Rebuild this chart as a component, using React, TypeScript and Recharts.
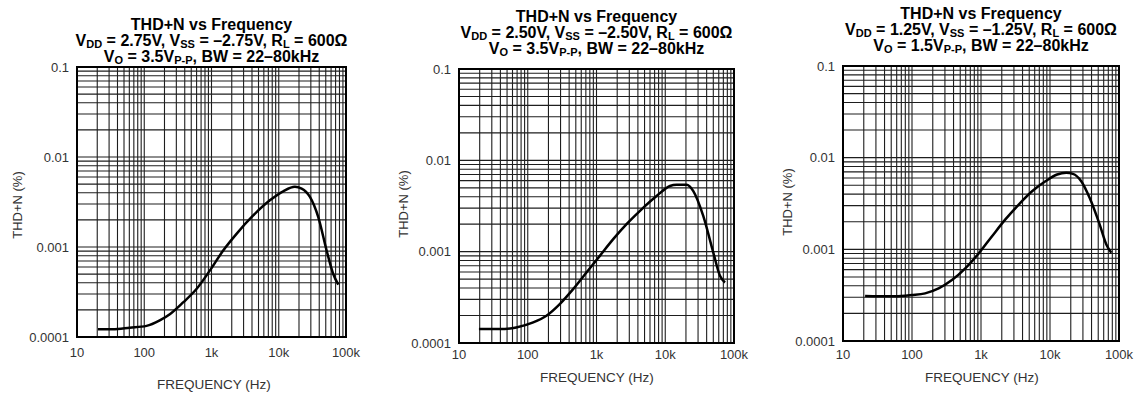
import React from "react";
import { LineChart, Line, XAxis, YAxis, CartesianGrid, ReferenceArea } from "recharts";

// decade ticks (labelled) – minor grid lines are 2..9 x each decade
const xDecades = [10, 100, 1000, 10000, 100000];
const xDecadeLabels = ["10", "100", "1k", "10k", "100k"];
const yDecades = [0.0001, 0.001, 0.01, 0.1];
const yDecadeLabels = ["0.0001", "0.001", "0.01", "0.1"];

// panel 1: VDD = 2.75V
const freq1 = [20.5, 34, 61, 108, 170, 240, 378, 598, 944, 1492, 2356, 4170, 7380, 11660, 17380, 21880, 29100, 38700, 51500, 64600, 76900];
const thd1 = [0.000122, 0.000122, 0.000127, 0.000133, 0.000153, 0.000179, 0.000242, 0.000341, 0.000546, 0.000914, 0.0014, 0.00224, 0.0033, 0.00416, 0.00466, 0.00446, 0.0036, 0.00215, 0.000914, 0.000501, 0.000381];

// panel 2: VDD = 2.50V
const freq2 = [19.5, 39, 68, 120, 187, 292, 457, 714, 1118, 1750, 2735, 4520, 7480, 11690, 14630, 20460, 25600, 35700, 50000, 62500, 74000];
const thd2 = [0.000142, 0.000142, 0.000148, 0.000168, 0.000199, 0.000267, 0.000389, 0.000592, 0.0009, 0.00137, 0.002, 0.00291, 0.00407, 0.00524, 0.0054, 0.0054, 0.00461, 0.00246, 0.000977, 0.000545, 0.00046];

// panel 3: VDD = 1.25V
const freq3 = [20.9, 32.6, 57, 99.5, 155, 243, 379, 592, 925, 1445, 2255, 3520, 5500, 8590, 12700, 17190, 21480, 28380, 37500, 52400, 65500, 77400];
const thd3 = [0.000309, 0.000307, 0.000307, 0.000317, 0.000331, 0.000375, 0.000462, 0.00062, 0.000902, 0.00139, 0.00212, 0.00308, 0.0043, 0.00553, 0.00655, 0.00683, 0.00666, 0.00553, 0.00365, 0.00187, 0.00113, 0.000917];

const FONT = "'Liberation Sans', Arial, Helvetica, sans-serif";

const minorTicks = (decades: number[]) => {
  const out: number[] = [];
  decades.forEach((d, i) => {
    if (i === decades.length - 1) { out.push(d); return; }
    for (let m = 1; m <= 9; m++) out.push(+(d * m).toPrecision(6));
  });
  return out;
};
const xTicks = minorTicks(xDecades);
const yTicks = minorTicks(yDecades);

const labelFor = (v: number, decades: number[], labels: string[]) => {
  const i = decades.findIndex((d) => Math.abs(v / d - 1) < 1e-6);
  return i >= 0 ? labels[i] : "";
};

type Panel = {
  left: number; width: number;
  plot: { x: number; y: number; w: number; h: number };
  freq: number[]; thd: number[];
  title: { top: number; vdd: string; vss: string; vo: string };
  xTickMargin: number;
  yTitle: { x: number; y: number };
  xTitle: { x: number; y: number };
};

const panels: Panel[] = [
  {
    left: 0, width: 380, plot: { x: 77, y: 67, w: 269, h: 270 }, freq: freq1, thd: thd1,
    title: { top: 17, vdd: "2.75V", vss: "–2.75V", vo: "3.5V" }, xTickMargin: 5,
    yTitle: { x: 18, y: 205 }, xTitle: { x: 214, y: 385 },
  },
  {
    left: 380, width: 380, plot: { x: 459, y: 69, w: 275, h: 274 }, freq: freq2, thd: thd2,
    title: { top: 9, vdd: "2.50V", vss: "–2.50V", vo: "3.5V" }, xTickMargin: 1,
    yTitle: { x: 404, y: 204 }, xTitle: { x: 597, y: 378 },
  },
  {
    left: 760, width: 376, plot: { x: 843, y: 66, w: 276, h: 275 }, freq: freq3, thd: thd3,
    title: { top: 6, vdd: "1.25V", vss: "–1.25V", vo: "1.5V" }, xTickMargin: 3,
    yTitle: { x: 788, y: 202 }, xTitle: { x: 982, y: 378 },
  },
];

const Sub = ({ children }: { children: React.ReactNode }) => (
  <span style={{ fontSize: 11, position: "relative", top: 1.5, lineHeight: "10px" }}>{children}</span>
);

function ThdPanel({ p }: { p: Panel }) {
  const data = p.freq.map((f, i) => ({ f, thd: p.thd[i] }));
  const xAxisH = 30;
  const cx = p.plot.x + p.plot.w / 2;
  return (
    <>
      <div style={{ position: "absolute", left: p.left, top: 0 }}>
        <LineChart
          width={p.width}
          height={394}
          data={data}
          margin={{ top: p.plot.y, right: p.left + p.width - (p.plot.x + p.plot.w), bottom: 394 - p.plot.y - p.plot.h - xAxisH, left: 0 }}
        >
          <CartesianGrid stroke="#1e1e1e" strokeWidth={1.1} />
          <XAxis
            dataKey="f" type="number" scale="log" domain={[10, 100000]} allowDataOverflow
            ticks={xTicks} interval={0} height={xAxisH} axisLine={false} tickLine={false}
            tickMargin={p.xTickMargin}
            tick={{ fontSize: 13, fill: "#333", fontFamily: FONT }}
            tickFormatter={(v: number) => labelFor(v, xDecades, xDecadeLabels)}
          />
          <YAxis
            type="number" scale="log" domain={[0.0001, 0.1]} allowDataOverflow
            ticks={yTicks} interval={0} width={p.plot.x - p.left} axisLine={false} tickLine={false}
            tick={{ fontSize: 13, fill: "#333", fontFamily: FONT }}
            tickFormatter={(v: number) => labelFor(v, yDecades, yDecadeLabels)}
          />
          <ReferenceArea x1={10} x2={100000} y1={0.0001} y2={0.1} fill="none" stroke="#000" strokeWidth={2} ifOverflow="visible" />
          <Line dataKey="thd" type="monotone" stroke="#000" strokeWidth={2.5} dot={false} isAnimationActive={false} />
        </LineChart>
      </div>
      <div
        style={{
          position: "absolute", left: cx - 200, width: 400, top: p.title.top, textAlign: "center",
          fontFamily: FONT, fontWeight: "bold", fontSize: 16, lineHeight: "16px", color: "#000",
        }}
      >
        THD+N vs Frequency<br />
        V<Sub>DD</Sub> = {p.title.vdd}, V<Sub>SS</Sub> = {p.title.vss}, R<Sub>L</Sub> = 600Ω<br />
        V<Sub>O</Sub> = {p.title.vo}<Sub>P-P</Sub>, BW = 22–80kHz
      </div>
      <div
        style={{
          position: "absolute", left: p.yTitle.x - 60, top: p.yTitle.y - 8, width: 120, height: 16,
          lineHeight: "16px", textAlign: "center", transform: "rotate(-90deg)",
          fontFamily: FONT, fontSize: 13, color: "#333",
        }}
      >
        THD+N (%)
      </div>
      <div
        style={{
          position: "absolute", left: p.xTitle.x - 80, top: p.xTitle.y - 8, width: 160, height: 16,
          lineHeight: "16px", textAlign: "center", fontFamily: FONT, fontSize: 13.5, color: "#333",
        }}
      >
        FREQUENCY (Hz)
      </div>
    </>
  );
}

export default function App() {
  return (
    <div style={{ position: "absolute", left: 0, top: 0, width: 1136, height: 394, background: "#fff", overflow: "hidden" }}>
      {panels.map((p, i) => (
        <ThdPanel key={i} p={p} />
      ))}
    </div>
  );
}
